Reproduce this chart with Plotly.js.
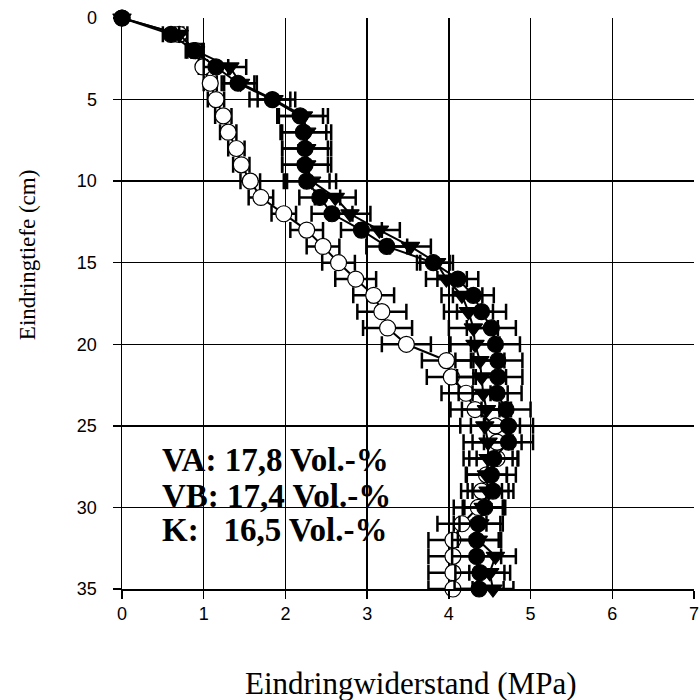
<!DOCTYPE html>
<html>
<head>
<meta charset="utf-8">
<script src="https://cdn.plot.ly/plotly-3.0.1.min.js"></script>
<style>html,body{margin:0;padding:0;background:#fff;}#chart{width:700px;height:700px;}</style>
</head>
<body>
<div id="chart"></div>
<script>
// Depth (cm)
var depth = [0,1,2,3,4,5,6,7,8,9,10,11,12,13,14,15,16,17,18,19,20,21,22,23,24,25,26,27,28,29,30,31,32,33,34,35];

// VA (filled circles) – penetration resistance (MPa) and error
var vaX   = [0,0.60,0.88,1.15,1.42,1.84,2.18,2.22,2.24,2.24,2.26,2.42,2.57,2.93,3.24,3.81,4.11,4.30,4.40,4.52,4.57,4.60,4.60,4.59,4.70,4.73,4.73,4.55,4.52,4.54,4.44,4.36,4.34,4.34,4.38,4.37];
var vaErr = [0,0.10,0.10,0.15,0.20,0.28,0.28,0.28,0.28,0.28,0.28,0.25,0.25,0.25,0.25,0.20,0.25,0.25,0.30,0.30,0.30,0.30,0.30,0.30,0.30,0.30,0.30,0.30,0.30,0.25,0.25,0.30,0.30,0.30,0.30,0.30];

// VB (filled triangles)
var vbX   = [0,0.70,0.90,1.32,1.45,1.86,2.22,2.26,2.26,2.26,2.32,2.61,2.79,3.15,3.53,3.85,3.97,4.16,4.24,4.30,4.32,4.38,4.40,4.42,4.46,4.44,4.48,4.48,4.46,4.48,4.42,4.38,4.36,4.57,4.50,4.54];
var vbErr = [0,0.10,0.10,0.20,0.20,0.20,0.30,0.30,0.30,0.30,0.30,0.25,0.25,0.25,0.25,0.20,0.25,0.25,0.30,0.30,0.30,0.30,0.30,0.30,0.30,0.30,0.30,0.30,0.25,0.25,0.25,0.25,0.25,0.25,0.25,0.25];

// K (open circles)
var kX    = [0,0.70,0.90,0.99,1.08,1.15,1.24,1.30,1.40,1.46,1.57,1.70,1.98,2.26,2.46,2.65,2.86,3.08,3.18,3.25,3.48,3.97,4.03,4.21,4.32,4.57,4.59,4.59,4.46,4.40,4.36,4.16,4.05,4.05,4.05,4.05];
var kErr  = [0,0.05,0.05,0.05,0.08,0.10,0.10,0.10,0.10,0.10,0.12,0.15,0.15,0.20,0.20,0.20,0.25,0.25,0.30,0.30,0.30,0.30,0.30,0.30,0.30,0.30,0.30,0.25,0.25,0.25,0.30,0.30,0.30,0.30,0.30,0.30];

var labels = ["VA: 17,8 Vol.-%", "VB: 17,4 Vol.-%", "K:\u00A0\u00A0\u00A016,5 Vol.-%"];
var xTicks = [0,1,2,3,4,5,6,7];
var yTicks = [0,5,10,15,20,25,30,35];

function series(x, err, sym, fill, name) {
  return {
    x: x, y: depth, type: 'scatter', mode: 'lines+markers', name: name,
    cliponaxis: false,
    line: {color: '#000', width: 2},
    marker: {symbol: sym, size: 16, color: fill, line: {color: '#000', width: 1.2}},
    error_x: {type: 'data', array: err, visible: true, color: '#000', thickness: 2.5, width: 8}
  };
}

var data = [
  series(kX, kErr, 'circle', '#fff', 'K'),
  series(vbX, vbErr, 'triangle-down', '#000', 'VB'),
  series(vaX, vaErr, 'circle', '#000', 'VA')
];

var tickFont = {family: 'Liberation Sans', size: 18, color: '#000'};
var serif = 'Liberation Serif';

var layout = {
  width: 700, height: 700,
  margin: {l: 122, r: 6, t: 18, b: 111},
  paper_bgcolor: '#fff', plot_bgcolor: '#fff',
  showlegend: false,
  xaxis: {
    range: [0, 7], tickvals: xTicks, ticktext: xTicks.map(String),
    showgrid: true, gridcolor: '#000', gridwidth: 1.5,
    zeroline: false, showline: true, linecolor: '#000', linewidth: 1.5,
    ticks: 'outside', ticklen: 8, tickwidth: 1.5, tickcolor: '#000',
    tickfont: tickFont
  },
  yaxis: {
    range: [35, 0], tickvals: yTicks, ticktext: yTicks.map(String),
    showgrid: true, gridcolor: '#000', gridwidth: 1.5,
    zeroline: false, showline: true, linecolor: '#000', linewidth: 1.5,
    ticks: 'outside', ticklen: 8, tickwidth: 1.5, tickcolor: '#000',
    ticklabelstandoff: 12,
    tickfont: tickFont
  },
  annotations: [
    {x: 0.465, y: 27.1, xref: 'x', yref: 'y', text: '<b>' + labels[0] + '</b>', showarrow: false, xanchor: 'left', yanchor: 'middle', font: {family: serif, size: 33, color: '#000', weight: 'bold'}},
    {x: 0.465, y: 29.3, xref: 'x', yref: 'y', text: '<b>' + labels[1] + '</b>', showarrow: false, xanchor: 'left', yanchor: 'middle', font: {family: serif, size: 33, color: '#000', weight: 'bold'}},
    {x: 0.465, y: 31.4, xref: 'x', yref: 'y', text: '<b>' + labels[2] + '</b>', showarrow: false, xanchor: 'left', yanchor: 'middle', font: {family: serif, size: 33, color: '#000', weight: 'bold'}},
    {x: 0.5035, y: -0.165, xref: 'paper', yref: 'paper', text: 'Eindringwiderstand (MPa)', showarrow: false, xanchor: 'center', yanchor: 'middle', font: {family: serif, size: 31, color: '#000'}},
    {x: -0.164, y: 0.585, xref: 'paper', yref: 'paper', text: 'Eindringtiefe (cm)', textangle: -90, showarrow: false, xanchor: 'center', yanchor: 'middle', font: {family: serif, size: 23, color: '#000'}}
  ]
};

Plotly.newPlot('chart', data, layout, {displayModeBar: false, staticPlot: true});
</script>
</body>
</html>
